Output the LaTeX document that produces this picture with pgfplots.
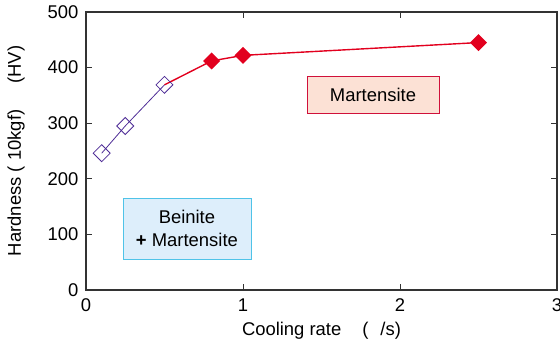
\documentclass[border=0pt]{standalone}
\usepackage{pgfplots}
\pgfplotsset{compat=1.18}
\usepackage{fontspec}
\setmainfont{Liberation Sans}
\definecolor{pur}{HTML}{4E2C96}
\definecolor{redm}{HTML}{E2001E}
\definecolor{axc}{HTML}{333333}
\definecolor{bfill}{HTML}{DDEEFB}
\definecolor{bdraw}{HTML}{4FC3E8}
\definecolor{mfill}{HTML}{FCE1D5}
\definecolor{mdraw}{HTML}{D0103A}
\begin{document}
\begin{tikzpicture}
\begin{axis}[
  scale only axis,
  width=471bp, height=278bp,
  xmin=0, xmax=3, ymin=0, ymax=500,
  xtick={0,1,2,3}, ytick={0,100,200,300,400,500},
  tick align=inside,
  major tick length=6bp,
  axis line style={axc, line width=1.1pt},
  every tick/.style={axc, line width=0.8pt},
  tick label style={font=\fontsize{18.5}{20}\selectfont},
  xticklabel style={yshift=-5bp},
  yticklabel style={xshift=-4bp},
  /pgf/number format/assume math mode=true,
  xlabel={Cooling rate\hspace{21bp}(\hspace{12bp}/s)},
  ylabel={Hardness ( 10kgf)\hspace{26bp}(HV)},
  label style={font=\fontsize{18.5}{20}\selectfont},
  xlabel style={at={(axis description cs:0.5,0)}, anchor=center, yshift=-41bp},
  ylabel style={at={(axis description cs:0,0.5)}, anchor=center, yshift=70bp},
  clip=false,
]
\addplot[redm, line width=1.4pt] coordinates {(0.5,369) (0.8,412)};
\addplot[redm, line width=1.4pt, mark=square*, mark size=5.3bp, mark options={rotate=45, fill=redm}]
  coordinates {(0.8,412) (1,422) (2.5,445)};
\addplot[pur, line width=0.8pt, mark=square, mark size=6bp, mark options={rotate=45, fill=white, line width=0.8pt}]
  coordinates {(0.1,246) (0.25,295) (0.5,369)};
\node[draw=bdraw, fill=bfill, line width=0.8pt, minimum width=128bp, minimum height=61bp, align=center, font=\fontsize{18.5}{23}\selectfont]
  at (axis cs:0.643,110.6) {Beinite\\\textbf{+} Martensite};
\node[draw=mdraw, fill=mfill, line width=0.8pt, minimum width=132bp, minimum height=37bp, font=\fontsize{18.5}{20}\selectfont]
  at (axis cs:1.828,351.6) {Martensite};
\coordinate (ll) at (rel axis cs:0,0);
\coordinate (ur) at (rel axis cs:1,1);
\end{axis}
\pgfresetboundingbox
\path[use as bounding box] ([xshift=-86bp,yshift=-53bp]ll) rectangle ([xshift=3bp,yshift=12bp]ur);
\end{tikzpicture}
\end{document}
